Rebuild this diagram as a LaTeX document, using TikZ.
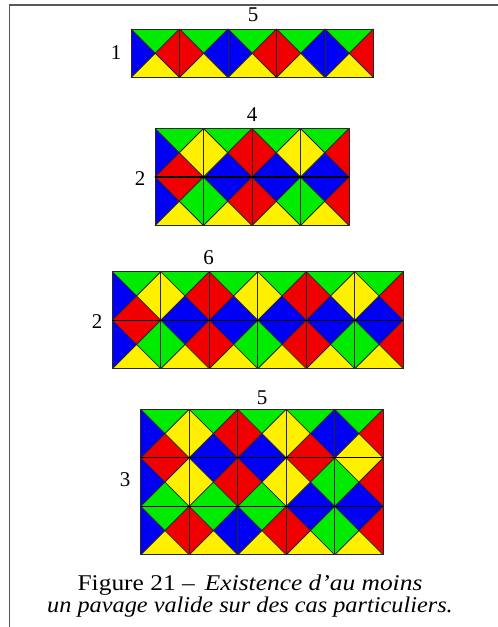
\documentclass[tikz,border=0pt]{standalone}
\usepackage{fontspec}
\setmainfont{Liberation Serif}
\newfontfamily\capit{Liberation Serif}[FakeStretch=1.08,Ligatures=TeX]
\newfontfamily\capwide{Liberation Serif}[FakeStretch=1.13,Ligatures=TeX]
\definecolor{cg}{RGB}{0,235,0}
\definecolor{cr}{RGB}{240,0,0}
\definecolor{cb}{RGB}{0,0,245}
\definecolor{cy}{RGB}{255,240,0}
\newcommand\tsz{48.5}
% \mytile{col}{row}{top}{right}{bottom}{left}
\newcommand\mytile[6]{%
  \begin{scope}[shift={(#1*\tsz,#2*\tsz)}]
    \fill[#3] (0,0) -- (\tsz,0) -- (\tsz/2,\tsz/2) -- cycle;
    \fill[#4] (\tsz,0) -- (\tsz,\tsz) -- (\tsz/2,\tsz/2) -- cycle;
    \fill[#5] (\tsz,\tsz) -- (0,\tsz) -- (\tsz/2,\tsz/2) -- cycle;
    \fill[#6] (0,\tsz) -- (0,0) -- (\tsz/2,\tsz/2) -- cycle;
    \draw[tileline] (0,0) -- (\tsz,\tsz) (\tsz,0) -- (0,\tsz);
    \draw[tileline] (0,0) rectangle (\tsz,\tsz);
  \end{scope}}
\tikzset{
  tileline/.style={black!85, line width=0.8pt, line join=round},
  rowline/.style={black, line width=1.2pt},
  num/.style={font=\fontsize{21}{21}\selectfont, inner sep=0pt},
  frameline/.style={black!65, line width=1.8pt},
}
\begin{document}
\begin{tikzpicture}[x=1pt,y=-1pt]
\useasboundingbox (0,0) rectangle (498,627);
\fill[white] (0,0) rectangle (498,627);
\draw[frameline] (9.5,627) -- (9.5,5.2) -- (498,5.2);

% Grid 1 : 1 x 5
\begin{scope}[shift={(131,29)}]
  \mytile{0}{0}{cg}{cr}{cy}{cb}
  \mytile{1}{0}{cg}{cb}{cy}{cr}
  \mytile{2}{0}{cg}{cr}{cy}{cb}
  \mytile{3}{0}{cg}{cb}{cy}{cr}
  \mytile{4}{0}{cg}{cr}{cy}{cb}
\end{scope}
\node[num] (n1top) at (253,15) {5};
\node[num] (n1left) at (116,53) {1};

% Grid 2 : 2 x 4
\begin{scope}[shift={(155,128.5)}]
  \mytile{0}{0}{cg}{cy}{cr}{cb}
  \mytile{1}{0}{cg}{cr}{cb}{cy}
  \mytile{2}{0}{cg}{cy}{cb}{cr}
  \mytile{3}{0}{cg}{cr}{cb}{cy}
  \mytile{0}{1}{cr}{cg}{cy}{cb}
  \mytile{1}{1}{cb}{cr}{cy}{cg}
  \mytile{2}{1}{cb}{cg}{cy}{cr}
  \mytile{3}{1}{cb}{cr}{cy}{cg}
  \draw[rowline] (0,\tsz) -- (4*\tsz,\tsz);
\end{scope}
\node[num] (n2top) at (252,115) {4};
\node[num] (n2left) at (140,179) {2};

% Grid 3 : 2 x 6
\begin{scope}[shift={(112.3,271.7)}]
  \mytile{0}{0}{cg}{cy}{cr}{cb}
  \mytile{1}{0}{cg}{cr}{cb}{cy}
  \mytile{2}{0}{cg}{cy}{cb}{cr}
  \mytile{3}{0}{cg}{cr}{cb}{cy}
  \mytile{4}{0}{cg}{cy}{cb}{cr}
  \mytile{5}{0}{cg}{cr}{cb}{cy}
  \mytile{0}{1}{cr}{cg}{cy}{cb}
  \mytile{1}{1}{cb}{cr}{cy}{cg}
  \mytile{2}{1}{cb}{cg}{cy}{cr}
  \mytile{3}{1}{cb}{cr}{cy}{cg}
  \mytile{4}{1}{cb}{cg}{cy}{cr}
  \mytile{5}{1}{cb}{cr}{cy}{cg}
  \draw[rowline] (0,\tsz) -- (6*\tsz,\tsz);
\end{scope}
\node[num] (n3top) at (208.5,258) {6};
\node[num] (n3left) at (97,322) {2};

% Grid 4 : 3 x 5
\begin{scope}[shift={(140.7,409.3)}]
  \mytile{0}{0}{cg}{cy}{cr}{cb}
  \mytile{1}{0}{cg}{cr}{cb}{cy}
  \mytile{2}{0}{cg}{cy}{cb}{cr}
  \mytile{3}{0}{cg}{cb}{cr}{cy}
  \mytile{4}{0}{cg}{cr}{cy}{cb}
  \mytile{0}{1}{cr}{cy}{cg}{cb}
  \mytile{1}{1}{cb}{cr}{cg}{cy}
  \mytile{2}{1}{cb}{cy}{cg}{cr}
  \mytile{3}{1}{cr}{cg}{cb}{cy}
  \mytile{4}{1}{cy}{cr}{cb}{cg}
  \mytile{0}{2}{cg}{cr}{cy}{cb}
  \mytile{1}{2}{cg}{cb}{cy}{cr}
  \mytile{2}{2}{cg}{cr}{cy}{cb}
  \mytile{3}{2}{cb}{cg}{cy}{cr}
  \mytile{4}{2}{cb}{cr}{cy}{cg}
  \draw[rowline] (0,\tsz) -- (5*\tsz,\tsz);
  \draw[rowline] (0,2*\tsz) -- (5*\tsz,2*\tsz);
\end{scope}
\node[num] (n4top) at (262,398) {5};
\node[num] (n4left) at (125,480) {3};

% Caption
\node[font=\fontsize{22.5}{22.5}\selectfont, align=center, inner sep=0pt] (cap) at (250,596)
  {{\capwide Figure 21 –\hspace{0.45em}\itshape Existence d’au moins}\\ {\capit\itshape un pavage valide sur des cas particuliers.}};
\end{tikzpicture}
\end{document}
